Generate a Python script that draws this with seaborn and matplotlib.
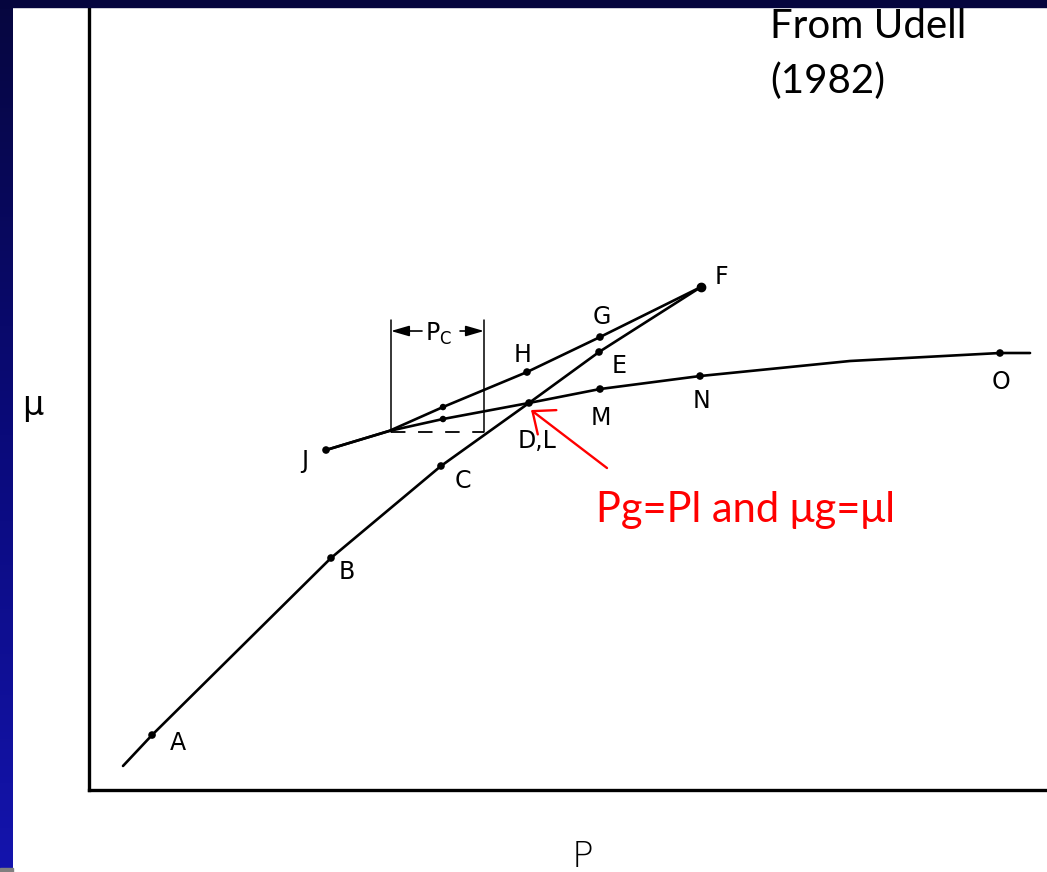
import numpy as np
import matplotlib
matplotlib.use("Agg")
import matplotlib.pyplot as plt
from matplotlib.patches import Rectangle
from matplotlib.colors import LinearSegmentedColormap
import seaborn as sns

# --- viscosity (mu) vs pressure (P) phase-boundary sketch, after Udell (1982) ---

# main branch A-B-C-D-E-F
main_P  = [0.355, 0.658, 2.526, 3.674, 4.593, 5.324, 6.388]
main_mu = [0.307, 0.702, 2.963, 4.138, 4.943, 5.594, 6.424]

# upper branch J-H-G-F
upper_P  = [2.474, 3.132, 3.695, 4.572, 5.334, 6.388]
upper_mu = [4.342, 4.585, 4.891, 5.338, 5.785, 6.424]

# lower branch J-D-M-N-O
lower_P  = [2.474, 3.132, 3.695, 4.593, 5.334, 6.378, 7.944, 9.509, 9.823]
lower_mu = [4.342, 4.585, 4.738, 4.943, 5.121, 5.287, 5.479, 5.581, 5.581]

# labelled points
pt_names = ["A", "B", "C", "D,L", "E", "F", "G", "H", "J", "M", "N", "O"]
pt_P  = [0.658, 2.526, 3.674, 4.593, 5.324, 6.388, 5.334, 4.572, 2.474, 5.334, 6.378, 9.509]
pt_mu = [0.702, 2.963, 4.138, 4.943, 5.594, 6.424, 5.785, 5.338, 4.342, 5.121, 5.287, 5.581]

# unlabelled intermediate points
extra_P  = [3.695, 3.695]
extra_mu = [4.891, 4.738]

# Pc bracket
pc_left, pc_right = 3.152, 4.123
pc_base, pc_top = 4.572, 6.003
pc_arrow_mu = 5.862

# red callout
note_xy = (4.614, 4.853)
note_text_xy = (6.858, 3.576)

sns.set_theme(style="white")
plt.rcParams["font.family"] = ["DejaVu Sans"]

W, H = 1047, 872
fig = plt.figure(figsize=(W / 100, H / 100), dpi=100)
fig.patch.set_facecolor("white")

# slide frame: dark strip on the left and along the top
strip = fig.add_axes([0, 0, 13 / W, 1])
grad = np.linspace(0, 1, 256).reshape(-1, 1)
cmap = LinearSegmentedColormap.from_list("frame", ["#06063f", "#0a0a7a", "#1414ad"])
strip.imshow(grad, aspect="auto", cmap=cmap, extent=[0, 1, 0, 1], origin="upper")
strip.set_axis_off()
fig.patches.append(Rectangle((0, 0), 13 / W, 4 / H, transform=fig.transFigure,
                             color="#808080", zorder=5))
fig.patches.append(Rectangle((0, 1 - 7 / H), 1, 7 / H, transform=fig.transFigure,
                             color="#05053e", zorder=5))

ax = fig.add_axes([89 / W, (H - 790) / H, (W - 89) / W, 783 / H])
ax.set_xlim(0, 10)
ax.set_ylim(0, 10)
ax.set_xticks([])
ax.set_yticks([])
for side in ["top", "right"]:
    ax.spines[side].set_visible(False)
for side in ["left", "bottom"]:
    ax.spines[side].set_color("black")
    ax.spines[side].set_linewidth(2.4)

lw = 1.9
sns.lineplot(x=main_P, y=main_mu, sort=False, estimator=None, color="black", lw=lw, ax=ax)
sns.lineplot(x=upper_P, y=upper_mu, sort=False, estimator=None, color="black", lw=lw, ax=ax)
sns.lineplot(x=lower_P, y=lower_mu, sort=False, estimator=None, color="black", lw=lw, ax=ax)

sns.scatterplot(x=pt_P, y=pt_mu, color="black", s=30, edgecolor="none", ax=ax, zorder=4)
sns.scatterplot(x=extra_P, y=extra_mu, color="black", s=22, edgecolor="none", ax=ax, zorder=4)
ax.plot([pt_P[5]], [pt_mu[5]], "o", color="black", ms=6, zorder=5)

# point labels (offsets in pixels from each point)
offsets = {"A": (26, -8), "B": (16, -14), "C": (22, -15), "D,L": (8, -38),
           "E": (20, -14), "F": (20, 10), "G": (2, 20), "H": (-4, 17),
           "J": (-21, -11), "M": (1, -29), "N": (1, -25), "O": (1, -29)}
lab_font = ["DejaVu Sans"]
for name, x, y in zip(pt_names, pt_P, pt_mu):
    ax.annotate(name, (x, y), xytext=offsets[name], textcoords="offset pixels",
                ha="center", va="center", fontsize=17, family=lab_font, color="black")

# Pc bracket: verticals, dashed base, double arrow
ax.plot([pc_left, pc_left], [pc_base, pc_top], color="black", lw=1.1)
ax.plot([pc_right, pc_right], [pc_base, pc_top], color="black", lw=1.1)
ax.plot([pc_left, pc_right], [pc_base, pc_base], color="black", lw=1.3, dashes=(8, 7))
arrow_kw = dict(arrowstyle="-|>,head_length=0.55,head_width=0.16", color="black",
                lw=1.2, mutation_scale=20, shrinkA=0, shrinkB=0)
ax.annotate("", xy=(pc_left, pc_arrow_mu), xytext=(3.476, pc_arrow_mu), arrowprops=arrow_kw)
ax.annotate("", xy=(pc_right, pc_arrow_mu), xytext=(3.873, pc_arrow_mu), arrowprops=arrow_kw)
ax.text(3.645, 5.82, r"$\mathregular{P_C}$", ha="center", va="center", fontsize=17,
        family=lab_font, color="black")

# red callout for the D,L crossing
ax.annotate("", xy=note_xy, xytext=(5.407, 4.112),
            arrowprops=dict(arrowstyle="->,head_length=0.6,head_width=0.5", color="red",
                            lw=1.7, mutation_scale=22, shrinkA=0, shrinkB=0))
ax.text(*note_text_xy, "Pg=Pl and μg=μl", ha="center", va="center", fontsize=30,
        color="red", family=["Lato", "Open Sans", "DejaVu Sans"])

# axis labels
fig.text(33 / W, 1 - 405 / H, "μ", ha="center", va="center", fontsize=24,
         family=["DejaVu Sans"], color="black")
fig.text(582 / W, 1 - 857 / H, "P", ha="center", va="center", fontsize=26,
         family=["DejaVu Sans"], fontweight="light", color="black")

# source note
src_font = ["Lato", "Open Sans", "DejaVu Sans"]
fig.text(770 / W, 1 - 38 / H, "From Udell", ha="left", va="baseline",
         fontsize=29, color="black", family=src_font)
fig.text(770 / W, 1 - 93 / H, "(1982)", ha="left", va="baseline",
         fontsize=29, color="black", family=src_font)

fig.savefig("out.png", dpi=100)
